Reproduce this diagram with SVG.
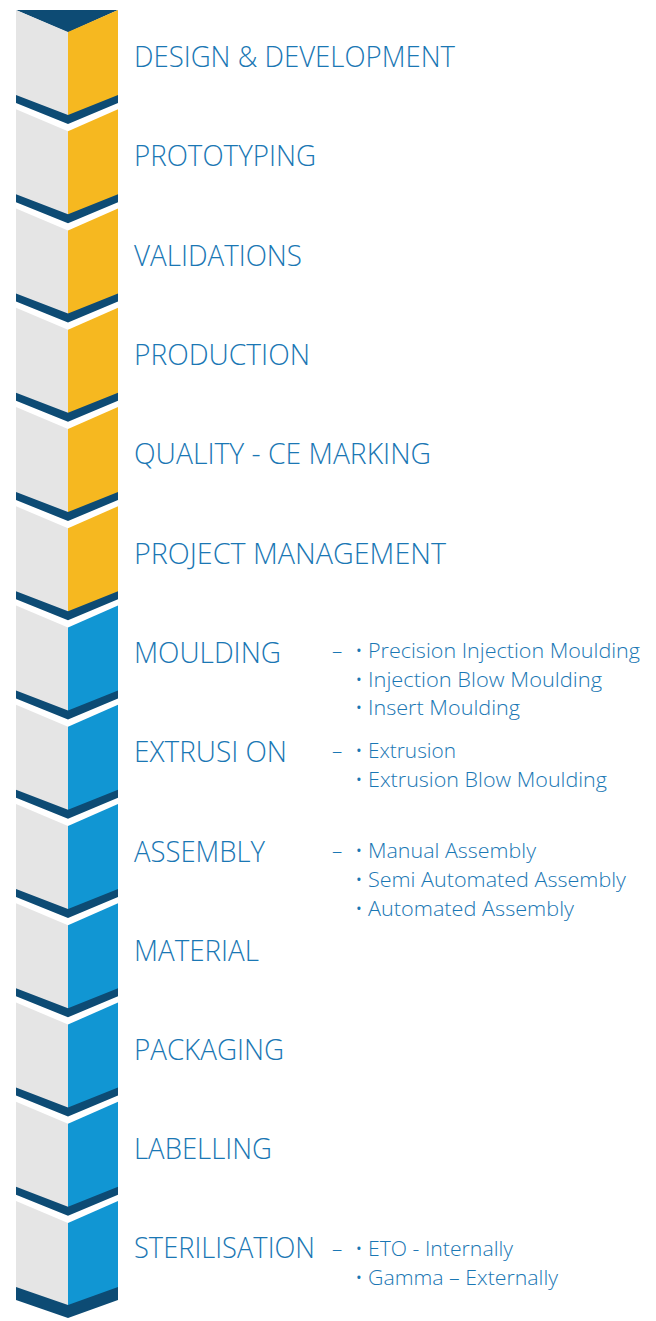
<svg xmlns="http://www.w3.org/2000/svg" xmlns:xlink="http://www.w3.org/1999/xlink" width="656" height="1321" viewBox="0 0 656 1321">
<style>
.lf{fill:#e5e5e5}
.yl{fill:#f6b820}
.bl{fill:#1196d3}
.nv{fill:#0d4b74}
.t{font-family:"Open Sans","Liberation Sans",sans-serif;font-weight:300;fill:#1a77b4}
.m{font-size:30px}
.s{font-size:20.5px}
</style>
<defs>
<polygon id="lface" points="16,0 68,22 68,110 16,90"/>
<polygon id="rface" points="68,22 118,0 118,90 68,110"/>
<polygon id="band" points="16,85 68,105 118,85 118,93 68,114 16,93"/>
</defs>
<rect width="656" height="1321" fill="#ffffff"/>
<polygon class="nv" points="16,10 118,10 68,32.5"/>
<g id="design">
<use xlink:href="#lface" class="lf" transform="translate(0,10)"/><use xlink:href="#rface" class="yl" transform="translate(0,10)"/><use xlink:href="#band" class="nv" transform="translate(0,10)"/>
<text class="t m" x="134" y="67" textLength="321" lengthAdjust="spacingAndGlyphs">DESIGN &amp; DEVELOPMENT</text>
</g>
<g id="prototyping">
<use xlink:href="#lface" class="lf" transform="translate(0,109.25)"/><use xlink:href="#rface" class="yl" transform="translate(0,109.25)"/><use xlink:href="#band" class="nv" transform="translate(0,109.25)"/>
<text class="t m" x="134" y="166" textLength="182" lengthAdjust="spacingAndGlyphs">PROTOTYPING</text>
</g>
<g id="validations">
<use xlink:href="#lface" class="lf" transform="translate(0,208.5)"/><use xlink:href="#rface" class="yl" transform="translate(0,208.5)"/><use xlink:href="#band" class="nv" transform="translate(0,208.5)"/>
<text class="t m" x="134" y="265.5" textLength="168" lengthAdjust="spacingAndGlyphs">VALIDATIONS</text>
</g>
<g id="production">
<use xlink:href="#lface" class="lf" transform="translate(0,307.75)"/><use xlink:href="#rface" class="yl" transform="translate(0,307.75)"/><use xlink:href="#band" class="nv" transform="translate(0,307.75)"/>
<text class="t m" x="134" y="365" textLength="176" lengthAdjust="spacingAndGlyphs">PRODUCTION</text>
</g>
<g id="quality">
<use xlink:href="#lface" class="lf" transform="translate(0,407)"/><use xlink:href="#rface" class="yl" transform="translate(0,407)"/><use xlink:href="#band" class="nv" transform="translate(0,407)"/>
<text class="t m" x="134" y="464" textLength="297" lengthAdjust="spacingAndGlyphs">QUALITY - CE MARKING</text>
</g>
<g id="project-management">
<use xlink:href="#lface" class="lf" transform="translate(0,506.25)"/><use xlink:href="#rface" class="yl" transform="translate(0,506.25)"/><use xlink:href="#band" class="nv" transform="translate(0,506.25)"/>
<text class="t m" x="134" y="563.5" textLength="312" lengthAdjust="spacingAndGlyphs">PROJECT MANAGEMENT</text>
</g>
<g id="moulding">
<use xlink:href="#lface" class="lf" transform="translate(0,605.5)"/><use xlink:href="#rface" class="bl" transform="translate(0,605.5)"/><use xlink:href="#band" class="nv" transform="translate(0,605.5)"/>
<text class="t m" x="134" y="662.5" textLength="147" lengthAdjust="spacingAndGlyphs">MOULDING</text>
<text class="t s" x="332" y="658">–</text>
<text class="t s" x="355" y="658">•</text><text class="t s" x="368" y="658" textLength="272" lengthAdjust="spacingAndGlyphs">Precision Injection Moulding</text>
<text class="t s" x="355" y="686.5">•</text><text class="t s" x="368" y="686.5" textLength="234" lengthAdjust="spacingAndGlyphs">Injection Blow Moulding</text>
<text class="t s" x="355" y="715">•</text><text class="t s" x="368" y="715" textLength="152" lengthAdjust="spacingAndGlyphs">Insert Moulding</text>
</g>
<g id="extrusion">
<use xlink:href="#lface" class="lf" transform="translate(0,704.75)"/><use xlink:href="#rface" class="bl" transform="translate(0,704.75)"/><use xlink:href="#band" class="nv" transform="translate(0,704.75)"/>
<text class="t m" x="134" y="762" textLength="153" lengthAdjust="spacingAndGlyphs">EXTRUSI ON</text>
<text class="t s" x="332" y="758">–</text>
<text class="t s" x="355" y="758">•</text><text class="t s" x="368" y="758" textLength="88" lengthAdjust="spacingAndGlyphs">Extrusion</text>
<text class="t s" x="355" y="786.5">•</text><text class="t s" x="368" y="786.5" textLength="239" lengthAdjust="spacingAndGlyphs">Extrusion Blow Moulding</text>
</g>
<g id="assembly">
<use xlink:href="#lface" class="lf" transform="translate(0,804)"/><use xlink:href="#rface" class="bl" transform="translate(0,804)"/><use xlink:href="#band" class="nv" transform="translate(0,804)"/>
<text class="t m" x="134" y="861.5" textLength="131" lengthAdjust="spacingAndGlyphs">ASSEMBLY</text>
<text class="t s" x="332" y="858">–</text>
<text class="t s" x="355" y="858">•</text><text class="t s" x="368" y="858" textLength="168" lengthAdjust="spacingAndGlyphs">Manual Assembly</text>
<text class="t s" x="355" y="887">•</text><text class="t s" x="368" y="887" textLength="258" lengthAdjust="spacingAndGlyphs">Semi Automated Assembly</text>
<text class="t s" x="355" y="916">•</text><text class="t s" x="368" y="916" textLength="206" lengthAdjust="spacingAndGlyphs">Automated Assembly</text>
</g>
<g id="material">
<use xlink:href="#lface" class="lf" transform="translate(0,903.25)"/><use xlink:href="#rface" class="bl" transform="translate(0,903.25)"/><use xlink:href="#band" class="nv" transform="translate(0,903.25)"/>
<text class="t m" x="134" y="960.5" textLength="125" lengthAdjust="spacingAndGlyphs">MATERIAL</text>
</g>
<g id="packaging">
<use xlink:href="#lface" class="lf" transform="translate(0,1002.5)"/><use xlink:href="#rface" class="bl" transform="translate(0,1002.5)"/><use xlink:href="#band" class="nv" transform="translate(0,1002.5)"/>
<text class="t m" x="134" y="1059.5" textLength="150" lengthAdjust="spacingAndGlyphs">PACKAGING</text>
</g>
<g id="labelling">
<use xlink:href="#lface" class="lf" transform="translate(0,1101.75)"/><use xlink:href="#rface" class="bl" transform="translate(0,1101.75)"/><use xlink:href="#band" class="nv" transform="translate(0,1101.75)"/>
<text class="t m" x="134" y="1159" textLength="138" lengthAdjust="spacingAndGlyphs">LABELLING</text>
</g>
<g id="sterilisation">
<use xlink:href="#lface" class="lf" transform="translate(0,1201)"/><use xlink:href="#rface" class="bl" transform="translate(0,1201)"/>
<polygon class="nv" points="16,1287 68,1305 118,1287 118,1300 68,1318 16,1300"/>
<text class="t m" x="134" y="1258" textLength="181" lengthAdjust="spacingAndGlyphs">STERILISATION</text>
<text class="t s" x="332" y="1256">–</text>
<text class="t s" x="355" y="1256">•</text><text class="t s" x="368" y="1256" textLength="145" lengthAdjust="spacingAndGlyphs">ETO - Internally</text>
<text class="t s" x="355" y="1285">•</text><text class="t s" x="368" y="1285" textLength="190" lengthAdjust="spacingAndGlyphs">Gamma – Externally</text>
</g>
</svg>
